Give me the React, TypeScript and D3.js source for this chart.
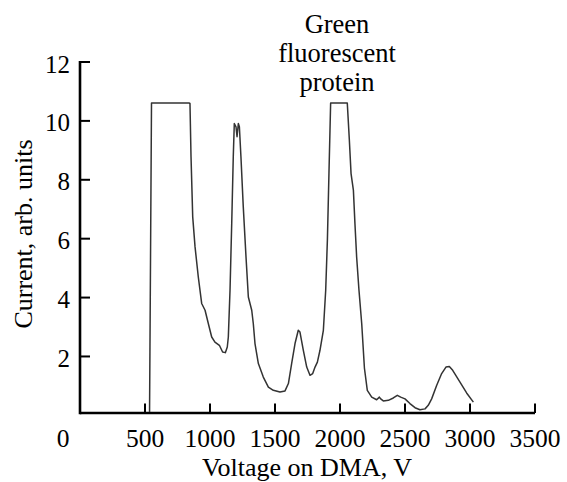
import React from "react";
import * as d3 from "d3";

const voltage = [
  535, 550, 838, 846, 854, 867, 885, 910, 936, 962, 987, 1013, 1038, 1072, 1097, 1118, 1133, 1141,
  1154, 1167, 1179, 1187, 1200, 1208, 1218, 1226, 1238, 1256, 1277, 1295, 1321, 1333, 1346, 1372,
  1410, 1449, 1487, 1538, 1577, 1603, 1628, 1654, 1679, 1692, 1718, 1744, 1769, 1790, 1808, 1826,
  1846, 1872, 1890, 1903, 1915, 1923, 1928, 2056, 2072, 2085, 2103, 2115, 2128, 2146, 2167, 2188,
  2210, 2244, 2282, 2303, 2313, 2333, 2372, 2410, 2441, 2467, 2500, 2538, 2577, 2615, 2654, 2679,
  2705, 2744, 2782, 2815, 2841, 2867, 2923, 2974, 3026,
];
const current = [
  0.11, 10.61, 10.61, 10.59, 8.78, 6.74, 5.72, 4.7, 3.8, 3.57, 3.12, 2.66, 2.49, 2.38, 2.15, 2.13, 2.32, 2.66,
  4.25, 6.51, 8.78, 9.91, 9.8, 9.46, 9.91, 9.8, 8.78, 7.08, 5.38, 4.02, 3.57, 3.12, 2.44, 1.76,
  1.3, 0.96, 0.85, 0.79, 0.83, 1.08, 1.76, 2.44, 2.89, 2.83, 2.21, 1.64, 1.36, 1.42, 1.64, 1.81,
  2.21, 2.89, 4.25, 5.95, 8.21, 9.68, 10.61, 10.61, 9.34, 8.21, 7.65, 6.51, 5.38, 4.25, 3.12, 1.6,
  0.85, 0.62, 0.53, 0.62, 0.56, 0.49, 0.51, 0.59, 0.68, 0.62, 0.56, 0.4, 0.26, 0.19, 0.22, 0.34,
  0.56, 1.02, 1.42, 1.64, 1.66, 1.53, 1.13, 0.76, 0.45,
];
const xTicks = [0, 500, 1000, 1500, 2000, 2500, 3000, 3500];
const yTicks = [2, 4, 6, 8, 10, 12];
const annotation = ["Green", "fluorescent", "protein"];

const W = 567;
const H = 482;
const FONT = "'Liberation Serif', 'Times New Roman', serif";

export default function App() {
  const x = d3.scaleLinear().domain([0, 3500]).range([80, 535]);
  const y = d3.scaleLinear().domain([0.08, 12]).range([413, 62]);
  const pts: [number, number][] = voltage.map((v, i) => [v, current[i]]);
  const line = d3
    .line<[number, number]>()
    .x((d) => x(d[0]))
    .y((d) => y(d[1]))
    .curve(d3.curveLinear);
  const axisY = y.range()[0];

  return (
    <svg
      width={W}
      height={H}
      style={{ position: "absolute", left: 0, top: 0, background: "#fff" }}
      fontFamily={FONT}
    >
      {/* axes */}
      <line x1={x(0)} x2={x(3500)} y1={axisY} y2={axisY} stroke="#000" strokeWidth={2.6} />
      <line x1={x(0)} x2={x(0)} y1={y(12) - 1} y2={axisY + 1.3} stroke="#000" strokeWidth={2.6} />
      {xTicks.map((t) => (
        <g key={"xt" + t}>
          {t > 0 && (
            <line x1={x(t)} x2={x(t)} y1={axisY} y2={axisY - 9.5} stroke="#000" strokeWidth={2} />
          )}
          <text
            x={t === 0 ? x(t) - 17 : x(t)}
            y={447}
            fontSize={25.5}
            textAnchor="middle"
            fill="#000"
          >
            {t}
          </text>
        </g>
      ))}
      {yTicks.map((t) => (
        <g key={"yt" + t}>
          <line x1={x(0)} x2={x(0) + 10} y1={y(t)} y2={y(t)} stroke="#000" strokeWidth={2} />
          <text x={70} y={y(t) + 10.5} fontSize={25} textAnchor="end" fill="#000">
            {t}
          </text>
        </g>
      ))}
      <text x={307} y={476} fontSize={26} textAnchor="middle" fill="#000">
        Voltage on DMA, V
      </text>
      <text
        transform={`translate(32,234) rotate(-90)`}
        fontSize={26}
        textAnchor="middle"
        fill="#000"
      >
        Current, arb. units
      </text>
      {annotation.map((s, i) => (
        <text key={s} x={337} y={32.5 + i * 29} fontSize={26.5} textAnchor="middle" fill="#000">
          {s}
        </text>
      ))}
      <path d={line(pts) || ""} fill="none" stroke="#333" strokeWidth={1.5} strokeLinejoin="round" />
    </svg>
  );
}
